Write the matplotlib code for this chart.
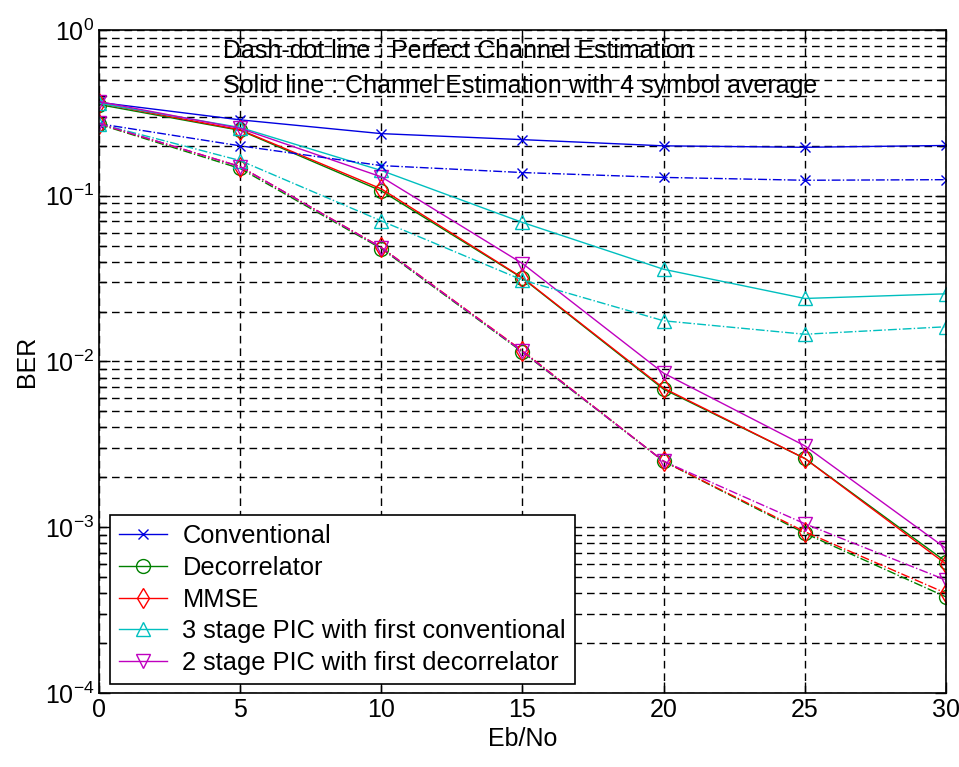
import numpy as np
import matplotlib.pyplot as plt
from matplotlib.ticker import FixedLocator, NullFormatter, LogLocator

plt.rcParams['font.family'] = ['Liberation Sans', 'DejaVu Sans']

ebno = [0, 5, 10, 15, 20, 25, 30]

# solid: channel estimation with 4 symbol average
conv_est = [0.366, 0.287, 0.237, 0.218, 0.200, 0.196, 0.201]
decor_est = [0.355, 0.248, 0.107, 0.0318, 0.0068, 0.0026, 0.00062]
mmse_est = [0.362, 0.250, 0.110, 0.0320, 0.0069, 0.0026, 0.00060]
pic3_est = [0.362, 0.258, 0.142, 0.0690, 0.0360, 0.0240, 0.0256]
pic2_est = [0.370, 0.255, 0.130, 0.0390, 0.0085, 0.0031, 0.000745]

# dash-dot: perfect channel estimation
conv_perf = [0.272, 0.200, 0.152, 0.138, 0.129, 0.124, 0.125]
decor_perf = [0.270, 0.146, 0.0480, 0.0114, 0.0025, 0.00092, 0.00038]
mmse_perf = [0.272, 0.150, 0.0488, 0.0116, 0.0025, 0.00094, 0.00040]
pic3_perf = [0.272, 0.163, 0.0705, 0.0310, 0.0176, 0.0146, 0.0162]
pic2_perf = [0.273, 0.150, 0.0486, 0.0115, 0.0025, 0.00105, 0.00048]

names = ["Conventional", "Decorrelator", "MMSE",
         "3 stage PIC with first conventional",
         "2 stage PIC with first decorrelator"]
colors = ["#0000e0", "#008000", "#ff0000", "#00bfbf", "#bf00bf"]
markers = ["x", "o", "d", "^", "v"]
msizes = [7, 10, 10, 10, 10]

est_series = [conv_est, decor_est, mmse_est, pic3_est, pic2_est]
perf_series = [conv_perf, decor_perf, mmse_perf, pic3_perf, pic2_perf]

fig = plt.figure(figsize=(9.59, 7.67), dpi=100)
ax = fig.add_axes([0.1032, 0.0965, 0.8832, 0.8644])

for ys, name, c, m, ms in zip(est_series, names, colors, markers, msizes):
    ax.semilogy(ebno, ys, color=c, marker=m, markersize=ms, mfc="none",
                mew=1.0, lw=1.0, label=name)
for ys, c, m, ms in zip(perf_series, colors, markers, msizes):
    ax.semilogy(ebno, ys, color=c, marker=m, markersize=ms, mfc="none",
                mew=1.0, lw=1.0, linestyle="-.")

ax.set_xlim(0, 30)
ax.set_ylim(1e-4, 1)
ax.xaxis.set_major_locator(FixedLocator(ebno))
ax.set_xticklabels([str(v) for v in ebno])
ax.yaxis.set_major_locator(FixedLocator([1e-4, 1e-3, 1e-2, 1e-1, 1]))
ax.set_yticklabels([r"$\mathregular{10^{%d}}$" % e for e in [-4, -3, -2, -1, 0]])
ax.yaxis.set_minor_locator(LogLocator(base=10, subs=np.arange(2, 10)))
ax.yaxis.set_minor_formatter(NullFormatter())

ax.grid(True, which="both", color="black", linestyle=(0, (5.5, 3.5)), lw=1.0)
ax.tick_params(which="both", direction="in", top=True, right=True,
               labelsize=18, width=1.0)
ax.tick_params(which="major", length=8)
ax.tick_params(which="minor", length=5)
for sp in ax.spines.values():
    sp.set_linewidth(1.2)

ax.set_xlabel("Eb/No", fontsize=18, labelpad=4)
ax.set_ylabel("BER", fontsize=18, labelpad=4)

ax.text(0.146, 0.968, "Dash-dot line : Perfect Channel Estimation",
        transform=ax.transAxes, fontsize=18, va="center", ha="left")
ax.text(0.146, 0.915, "Solid line : Channel Estimation with 4 symbol average",
        transform=ax.transAxes, fontsize=18, va="center", ha="left")

leg = ax.legend(loc="lower left", bbox_to_anchor=(0.013, 0.014),
                borderaxespad=0, fontsize=18.3, labelspacing=0.3,
                handlelength=1.9, handletextpad=0.6, borderpad=0.35,
                fancybox=False, framealpha=1, edgecolor="black")
leg.get_frame().set_linewidth(1.2)

fig.savefig("out.png", dpi=100)
